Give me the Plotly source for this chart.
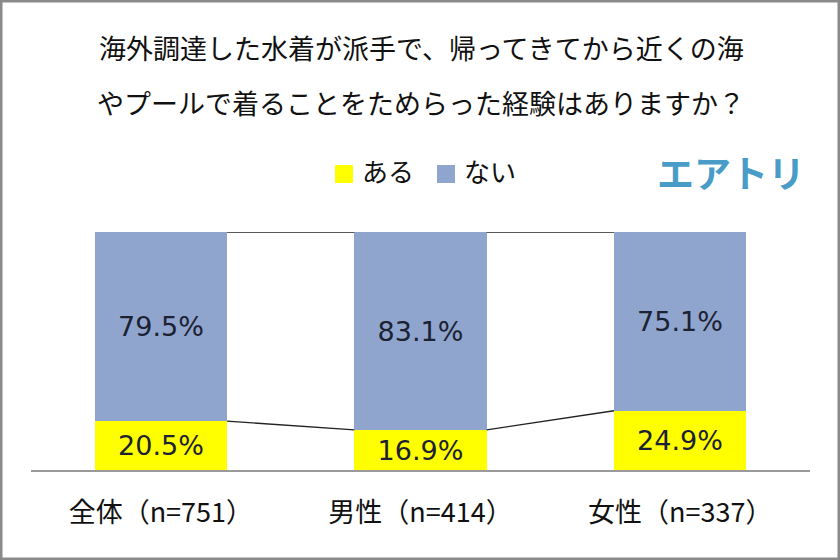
import plotly.graph_objects as go

categories = ["全体（n=751）", "男性（n=414）", "女性（n=337）"]
aru = [20.5, 16.9, 24.9]
nai = [79.5, 83.1, 75.1]
series_names = ["ある", "ない"]
series_colors = ["#FFFF00", "#8FA5CD"]
title_lines = ["海外調達した水着が派手で、帰ってきてから近くの海", "やプールで着ることをためらった経験はありますか？"]
logo_text = "エアトリ"

W, H = 840, 560
ML, MR, MT, MB = 31, 30, 232, 90
PW, PH = W - ML - MR, H - MT - MB

def px_x(p):
    return (p - ML) / PW

def px_y(p):
    return (H - MB - p) / PH

FONT = "Noto Sans CJK JP"
NUMFONT = "DejaVu Sans"
BAR_W = 0.51
xs = list(range(len(categories)))

fig = go.Figure()
for name, vals, col in zip(series_names, [aru, nai], series_colors):
    fig.add_trace(go.Bar(
        x=xs, y=vals, name=name, width=BAR_W,
        marker=dict(color=col, line=dict(width=0)),
        text=[f"{v:.1f}%" for v in vals], textposition="inside", insidetextanchor="middle",
        textfont=dict(size=27, color="#1c2233", family=NUMFONT), textangle=0,
        showlegend=False,
    ))

# series lines
lx, ly = [], []
tops = [a + n for a, n in zip(aru, nai)]
for i in range(len(xs) - 1):
    lx += [xs[i] + BAR_W / 2, xs[i + 1] - BAR_W / 2, None]
    ly += [aru[i], aru[i + 1], None]
    lx += [xs[i] + BAR_W / 2, xs[i + 1] - BAR_W / 2, None]
    ly += [tops[i], tops[i + 1], None]
fig.add_trace(go.Scatter(x=lx, y=ly, mode="lines", line=dict(color="#222222", width=1.3),
                         showlegend=False, hoverinfo="skip", cliponaxis=False))

annotations = []
shapes = []
for k, t in enumerate(title_lines):
    annotations.append(dict(text=t, x=px_x(421), y=px_y(47 + 56 * k), xref="paper", yref="paper",
                            xanchor="center", yanchor="middle", showarrow=False,
                            font=dict(size=27, color="#111111", family=FONT)))
annotations.append(dict(text=f"<b>{logo_text}</b>", x=px_x(731), y=px_y(172), xref="paper", yref="paper",
                        xanchor="center", yanchor="middle", showarrow=False,
                        font=dict(size=37, color="#4A9CC8", family=FONT)))

# manual legend
leg_x = [335, 437]
for lxp, name, col in zip(leg_x, series_names, series_colors):
    shapes.append(dict(type="rect", xref="paper", yref="paper",
                       x0=px_x(lxp), x1=px_x(lxp + 18), y0=px_y(183), y1=px_y(165),
                       line=dict(width=0), fillcolor=col))
    annotations.append(dict(text=name, x=px_x(lxp + 25), y=px_y(170), xref="paper", yref="paper",
                            xanchor="left", yanchor="middle", showarrow=False,
                            font=dict(size=26, color="#111111", family=FONT)))

shapes.append(dict(type="rect", xref="paper", yref="paper",
                   x0=px_x(1), x1=px_x(W - 1), y0=px_y(H - 1), y1=px_y(1),
                   line=dict(color="#8a8a8a", width=3), fillcolor="rgba(0,0,0,0)", layer="above"))

fig.update_layout(
    width=W, height=H,
    margin=dict(l=ML, r=MR, t=MT, b=MB),
    paper_bgcolor="white", plot_bgcolor="white",
    barmode="stack",
    bargap=0,
    showlegend=False,
    xaxis=dict(tickmode="array", tickvals=xs, ticktext=categories, range=[-0.5, 2.5],
               showline=True, linecolor="#9a9a9a", linewidth=2, showgrid=False, zeroline=False,
               ticks="outside", ticklen=18, tickcolor="rgba(0,0,0,0)",
               tickfont=dict(size=27, color="#111111", family=FONT), fixedrange=True),
    yaxis=dict(range=[0, 100], visible=False, fixedrange=True),
    annotations=annotations,
    shapes=shapes,
    uniformtext=dict(mode=False),
)

fig.write_html("out.html", config={"displayModeBar": False},
               post_script="document.body.style.margin='0';")
